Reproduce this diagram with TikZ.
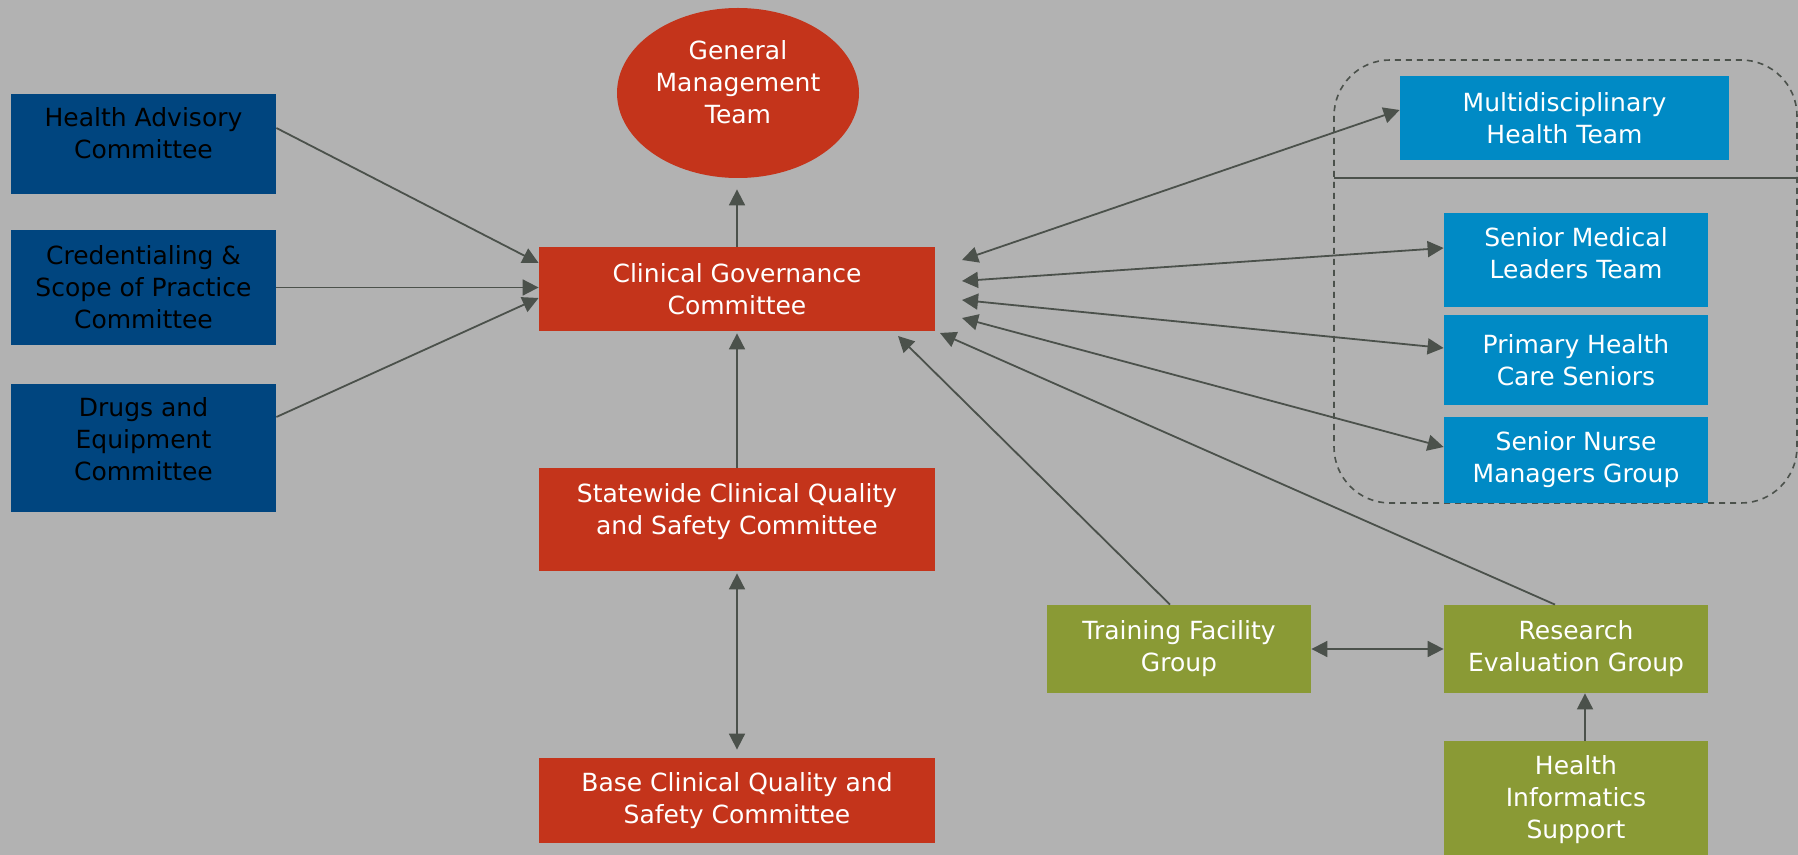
\documentclass[tikz,border=0pt]{standalone}
\usepackage{fontspec}
\setmainfont{DejaVu Sans}
\usetikzlibrary{shapes.geometric,arrows.meta}
\definecolor{govred}{HTML}{C4341B}
\definecolor{govnavy}{HTML}{00457F}
\definecolor{govblue}{HTML}{008AC5}
\definecolor{govgreen}{HTML}{8A9A35}
\definecolor{govback}{HTML}{B2B2B2}
\definecolor{linkgrey}{HTML}{4B514B}
\begin{document}
\begin{tikzpicture}[x=0.5pt,y=-0.5pt,
  >={Triangle[length=8pt,width=8pt]},
  box/.style={rectangle, inner sep=2pt, align=center, font=\fontsize{12.5}{16}\selectfont},
  navybox/.style={box, fill=govnavy, text=black, minimum width=132.5pt},
  redbox/.style={box, fill=govred, text=white, minimum width=198pt},
  bluebox/.style={box, fill=govblue, text=white, minimum width=132pt},
  greenbox/.style={box, fill=govgreen, text=white, minimum width=132pt},
  link/.style={draw=linkgrey, line width=0.9pt, ->},
  bilink/.style={draw=linkgrey, line width=0.9pt, <->}]
\fill[govback] (0,0) rectangle (1798,855);
\useasboundingbox (0,0) rectangle (1798,855);
\draw[linkgrey, line width=0.8pt, dash pattern=on 3pt off 2.5pt, rounded corners=28pt] (1334,60) rectangle (1797,503);
\draw[linkgrey, line width=1pt] (1334,178) -- (1798,178);
\node[navybox, minimum height=50pt, text depth=11pt] (ha) at (143.5,144) {Health Advisory\\Committee};
\node[navybox, minimum height=57.5pt] (cred) at (143.5,287.5) {Credentialing \&\\Scope of Practice\\Committee};
\node[navybox, minimum height=64pt, text depth=8.5pt] (drugs) at (143.5,448) {Drugs and\\Equipment\\Committee};
\node[ellipse, fill=govred, text=white, inner sep=0pt, minimum width=121pt, minimum height=85pt, align=center, text depth=11pt, font=\fontsize{12.5}{16}\selectfont] (gmt) at (738,93) {General\\Management\\Team};
\node[redbox, minimum height=42pt] (cg) at (737,289) {Clinical Governance\\Committee};
\node[redbox, minimum height=51.5pt, text depth=10pt] (scqs) at (737,519.5) {Statewide Clinical Quality\\and Safety Committee};
\node[redbox, minimum height=42.5pt] (base) at (737,800.5) {Base Clinical Quality and\\Safety Committee};
\node[bluebox, minimum width=164.5pt, minimum height=42pt] (mht) at (1564.5,118) {Multidisciplinary\\Health Team};
\node[bluebox, minimum height=47pt, text depth=6.5pt] (smlt) at (1576,260) {Senior Medical\\Leaders Team};
\node[bluebox, minimum height=45pt] (phcs) at (1576,360) {Primary Health\\Care Seniors};
\node[bluebox, minimum height=43pt] (snmg) at (1576,460) {Senior Nurse\\Managers Group};
\node[greenbox, minimum height=44pt] (tf) at (1179,649) {Training Facility\\Group};
\node[greenbox, minimum height=44pt] (re) at (1576,649) {Research\\Evaluation Group};
\node[greenbox, minimum height=59pt] (his) at (1576,800) {Health\\Informatics\\Support};
\coordinate (cg1) at (962,260);
\coordinate (cg2) at (962,281);
\coordinate (cg3) at (962,300);
\coordinate (cg4) at (962,318);
\coordinate (cg5) at (898,336);
\coordinate (cg6) at (940,333);
\draw[link] ([yshift=8pt]ha.east) -- ([yshift=13pt]cg.west);
\draw[link] (cred.east) -- (cred.east -| cg.west);
\draw[link] ([yshift=15.5pt]drugs.east) -- ([yshift=-4.5pt]cg.west);
\draw[link, shorten >=5.5pt] (cg.north) -- (cg.north |- gmt.south);
\draw[link, shorten >=1pt] (scqs.north) -- (cg.south);
\draw[bilink, shorten <=1pt, shorten >=4pt] (scqs.south) -- (base.north);
\draw[bilink] (cg1) -- ([yshift=4pt]mht.west);
\draw[bilink] (cg2) -- ([yshift=6pt]smlt.west);
\draw[bilink] (cg3) -- ([yshift=6pt]phcs.west);
\draw[bilink] (cg4) -- ([yshift=6.5pt]snmg.west);
\draw[link] ([xshift=-4.5pt]tf.north) -- (cg5);
\draw[link] ([xshift=-10.5pt]re.north) -- (cg6);
\draw[bilink] (tf.east) -- (re.west);
\draw[link] ([xshift=4.5pt]his.north) -- ([xshift=4.5pt]re.south);
\end{tikzpicture}
\end{document}
